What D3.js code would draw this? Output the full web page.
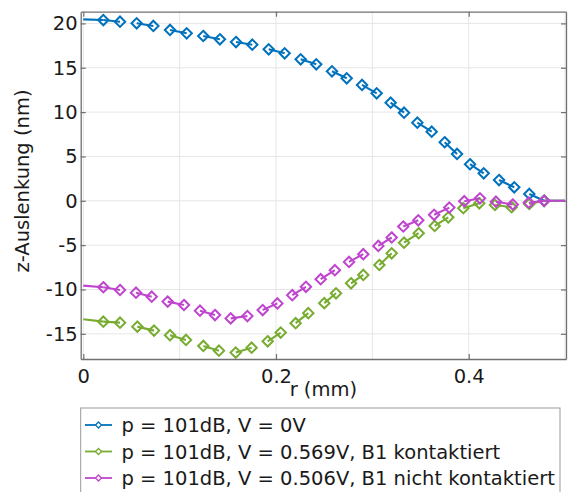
<!DOCTYPE html>
<html>
<head>
<meta charset="utf-8">
<script src="https://cdn.jsdelivr.net/npm/d3@7"></script>
<style>
  html, body { margin: 0; padding: 0; background: #fff; }
  svg { display: block; font-family: "DejaVu Sans", sans-serif; }
</style>
</head>
<body>
<svg id="chart" width="568" height="492"></svg>
<script>
// ---- data ----
const rBlue = [0, 0.0208, 0.0381, 0.0554, 0.0727, 0.0900, 0.1073, 0.1245, 0.1418, 0.1585, 0.1754, 0.1924, 0.2090, 0.2256, 0.2418, 0.2581, 0.2734, 0.2893, 0.3045, 0.3190, 0.3329, 0.3467, 0.3616, 0.3751, 0.3879, 0.4014, 0.4156, 0.4315, 0.4473, 0.4629, 0.4783, 0.5];
const zBlue = [20.45, 20.38, 20.19, 20.01, 19.71, 19.26, 18.88, 18.58, 18.21, 17.90, 17.60, 17.08, 16.63, 15.95, 15.39, 14.60, 13.81, 13.06, 12.12, 11.06, 9.93, 8.81, 7.79, 6.60, 5.28, 4.12, 3.10, 2.34, 1.52, 0.77, 0, 0];

const rGreen = [0, 0.0208, 0.0381, 0.0561, 0.0734, 0.0900, 0.1066, 0.1246, 0.1408, 0.1582, 0.1747, 0.1914, 0.2049, 0.2204, 0.2335, 0.2501, 0.2623, 0.2779, 0.2906, 0.3073, 0.3201, 0.3329, 0.3481, 0.3647, 0.3788, 0.3944, 0.4110, 0.4273, 0.4446, 0.4629, 0.4783, 0.5];
const zGreen = [-13.36, -13.63, -13.74, -14.19, -14.64, -15.16, -15.69, -16.37, -16.90, -17.12, -16.56, -15.84, -14.86, -13.80, -12.67, -11.54, -10.43, -9.30, -8.36, -7.24, -5.92, -4.72, -3.66, -2.84, -1.86, -0.84, -0.28, -0.47, -0.73, -0.36, 0, 0];

const rPurple = [0, 0.0208, 0.0381, 0.0547, 0.0710, 0.0876, 0.1045, 0.1211, 0.1367, 0.1530, 0.1703, 0.1862, 0.2014, 0.2169, 0.2311, 0.2464, 0.2611, 0.2758, 0.2906, 0.3062, 0.3201, 0.3321, 0.3477, 0.3641, 0.3799, 0.3954, 0.4117, 0.4283, 0.4457, 0.4624, 0.4783, 0.5];
const zPurple = [-9.57, -9.75, -10.06, -10.36, -10.81, -11.37, -11.75, -12.39, -12.88, -13.26, -13.00, -12.32, -11.57, -10.64, -9.70, -8.84, -7.83, -6.89, -6.02, -5.09, -4.14, -2.90, -2.20, -1.58, -0.77, -0.05, 0.28, -0.10, -0.42, -0.22, 0, 0];

const seriesNames = [
  "p = 101dB, V = 0V",
  "p = 101dB, V = 0.569V, B1 kontaktiert",
  "p = 101dB, V = 0.506V, B1 nicht kontaktiert"
];
const seriesColors = ["#0072bd", "#77ac30", "#bf45cf"];

const xTicks = [0, 0.2, 0.4];
const xGrid = [0, 0.1, 0.2, 0.3, 0.4, 0.5];
const yTicks = [-15, -10, -5, 0, 5, 10, 15, 20];
const xLabel = "r (mm)";
const yLabel = "z-Auslenkung (nm)";

// ---- layout ----
const svg = d3.select("#chart");
const L = 80.7, R = 566, T = 11.7, B = 359;
const x = d3.scaleLinear().domain([-0.0027, 0.501]).range([L, R]);
const y = d3.scaleLinear().domain([-17.84, 21.32]).range([B, T]);

svg.append("defs").append("clipPath").attr("id", "clip")
  .append("rect").attr("x", L).attr("y", T).attr("width", R - L).attr("height", B - T);

// grid
const grid = svg.append("g");
grid.selectAll(".vg").data(xGrid).join("line")
  .attr("x1", d => x(d)).attr("x2", d => x(d)).attr("y1", T).attr("y2", B)
  .attr("stroke", "#e6e6e6").attr("stroke-width", 1);
grid.selectAll(".hg").data(yTicks).join("line")
  .attr("x1", L).attr("x2", R).attr("y1", d => y(d)).attr("y2", d => y(d))
  .attr("stroke", "#e6e6e6").attr("stroke-width", 1);

// axes
const tickLen = 5;
const axColor = "#707070";
const fontSize = 19.5;
const xAxisB = d3.axisBottom(x).tickValues(xTicks).tickSizeInner(-tickLen).tickSizeOuter(0).tickPadding(10)
  .tickFormat(d => d === 0 ? "0" : d3.format(".1f")(d));
const xAxisT = d3.axisTop(x).tickValues(xTicks).tickSizeInner(-tickLen).tickSizeOuter(0).tickFormat("");
const yAxisL = d3.axisLeft(y).tickValues(yTicks).tickSizeInner(-tickLen).tickSizeOuter(0).tickPadding(3);
const yAxisR = d3.axisRight(y).tickValues(yTicks).tickSizeInner(-tickLen).tickSizeOuter(0).tickFormat("");

function styleAxis(g) {
  g.selectAll("path").attr("stroke", axColor).attr("stroke-width", 1.3);
  g.selectAll("line").attr("stroke", axColor).attr("stroke-width", 1.2);
  g.selectAll("text").attr("fill", "#1a1a1a").attr("font-size", fontSize)
    .attr("font-family", "DejaVu Sans, sans-serif");
}
svg.append("g").attr("transform", `translate(0,${B})`).call(xAxisB).call(styleAxis);
svg.append("g").attr("transform", `translate(0,${T})`).call(xAxisT).call(styleAxis);
svg.append("g").attr("transform", `translate(${L},0)`).call(yAxisL).call(styleAxis)
  .selectAll("text").text(d => d < 0 ? "-" + Math.abs(d) : d);
svg.append("g").attr("transform", `translate(${R},0)`).call(yAxisR).call(styleAxis);

// axis labels
svg.append("text").attr("x", (L + R) / 2).attr("y", 396).attr("text-anchor", "middle")
  .attr("font-size", fontSize).attr("fill", "#1a1a1a").text(xLabel);
svg.append("text").attr("transform", `translate(29,181) rotate(-90)`)
  .attr("text-anchor", "middle").attr("font-size", fontSize).attr("fill", "#1a1a1a").text(yLabel);

// series
const series = [
  { r: rBlue, z: zBlue },
  { r: rGreen, z: zGreen },
  { r: rPurple, z: zPurple }
];
const diamond = s => `M0,${-s}L${s},0L0,${s}L${-s},0Z`;
const plot = svg.append("g").attr("clip-path", "url(#clip)");
const lineGen = d3.line().x(d => x(d[0])).y(d => y(d[1]));

series.forEach((s, k) => {
  const pts = s.r.map((r, i) => [r, s.z[i]]);
  const n = pts.length;
  // line is drawn as short pieces joining pairs of markers
  const segs = [[pts[0], pts[1]]];
  for (let i = 1; i < n - 1; i += 2) segs.push([pts[i], pts[i + 1]]);
  segs.push([pts[n - 2], pts[n - 1]]);
  plot.append("g").selectAll("path").data(segs).join("path")
    .attr("d", lineGen).attr("fill", "none")
    .attr("stroke", seriesColors[k]).attr("stroke-width", 2.1)
    .attr("stroke-linecap", "butt");
  plot.append("g").selectAll("path").data(pts.slice(1, n - 1)).join("path")
    .attr("transform", d => `translate(${x(d[0])},${y(d[1])})`)
    .attr("d", diamond(5.2)).attr("fill", "none")
    .attr("stroke", seriesColors[k]).attr("stroke-width", 2);
});

// legend
const lg = svg.append("g");
lg.append("rect").attr("x", 80.7).attr("y", 408).attr("width", 479.3).attr("height", 100)
  .attr("fill", "#fff").attr("stroke", "#999").attr("stroke-width", 1);
seriesNames.forEach((name, k) => {
  const cy = 425 + k * 26.5;
  lg.append("line").attr("x1", 85).attr("x2", 112).attr("y1", cy).attr("y2", cy)
    .attr("stroke", seriesColors[k]).attr("stroke-width", 1.8);
  lg.append("path").attr("transform", `translate(98.5,${cy})`).attr("d", diamond(3))
    .attr("fill", "#fff").attr("stroke", seriesColors[k]).attr("stroke-width", 1.3);
  lg.append("text").attr("x", 121.5).attr("y", cy + 7).attr("font-size", fontSize)
    .attr("fill", "#1a1a1a").text(name);
});
</script>
</body>
</html>
